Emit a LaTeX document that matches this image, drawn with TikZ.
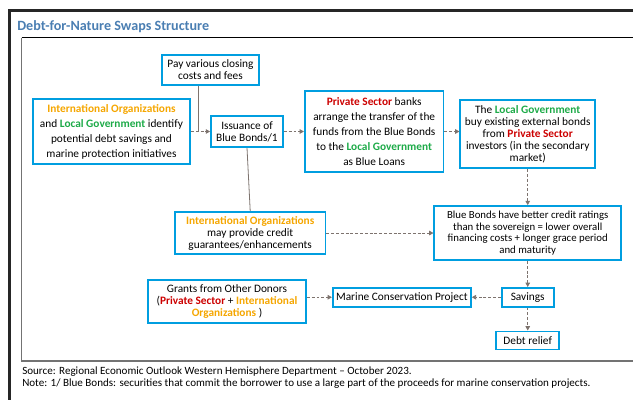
\documentclass[tikz,border=0pt]{standalone}
\usepackage{fontspec}
\setmainfont{Carlito}
\usepackage{tikz}
\usetikzlibrary{arrows.meta, positioning}
\usepackage{xcolor}
\definecolor{BoxBlue}{RGB}{0,158,224}
\definecolor{TitleBlue}{RGB}{74,126,178}
\definecolor{OrgOrange}{RGB}{245,166,0}
\definecolor{GovGreen}{RGB}{29,170,72}
\definecolor{PrivRed}{RGB}{204,0,0}
\definecolor{LinkGray}{RGB}{125,115,110}
\definecolor{FrameGray}{RGB}{115,115,115}
\newcommand{\orgtext}[1]{\textcolor{OrgOrange}{\textbf{#1}}}
\newcommand{\govtext}[1]{\textcolor{GovGreen}{\textbf{#1}}}
\newcommand{\privtext}[1]{\textcolor{PrivRed}{\textbf{#1}}}
\tikzset{%
  flow_block/.style={%
    rectangle,%
    draw=BoxBlue,%
    line width=1.4pt,%
    inner sep=1pt,%
    font={\fontsize{8.5}{9}\selectfont},%
    align=center%
  },
  loose_block/.style={%
    flow_block,%
    font={\fontsize{8.5}{11.25}\selectfont},%
  },
  tight_block/.style={%
    flow_block,%
    font={\fontsize{8.1}{8.6}\selectfont},%
  },
  flow_path/.style={%
    color=LinkGray,%
    line width=0.6pt,%
  },
  flow_dashed/.style={%
    flow_path,%
    dash pattern=on 2.2pt off 1.4pt,%
  },
  title_text/.style={%
    color=TitleBlue,%
    font={\fontsize{10.6}{12}\selectfont\bfseries},%
    inner sep=0pt,%
  },
  note_text/.style={%
    font={\fontsize{8.3}{9}\selectfont},%
    inner sep=0pt,%
    align=left,%
  },
  arrow/.style={-{Triangle[length=3.2pt, width=3.4pt]}},
}
\begin{document}
\begin{tikzpicture}[x=0.75pt, y=0.75pt]

    \useasboundingbox (0,0) rectangle (633,-400);

    % frame
    \draw [line width=1.6pt, color=black!85] (9.5,-400) -- (9.5,-10.5) -- (633,-10.5);
    \draw [line width=1.1pt, color=black] (21.5,-37.5) -- (633,-37.5);
    \draw [line width=1pt, color=FrameGray] (21.5,-37.5) -- (21.5,-361) -- (633,-361);

    \node [title_text, anchor=base west] (Title) at (17,-30)
      {Debt-for-Nature Swaps Structure};

    \node [flow_block, minimum width=54pt, minimum height=23pt] (Issuance) at (247,-131.5)
      {Issuance of\\Blue Bonds/1};
    \node [flow_block, minimum width=73pt, minimum height=22.5pt] (PayBox) at (210.5,-70)
      {Pay various closing\\costs and fees};
    \node [loose_block, minimum width=118pt, minimum height=49pt, left = 19 of Issuance] (IdentifyBox)
      {\orgtext{International Organizations}\\and \govtext{Local Government} identify\\potential debt savings and\\marine protection initiatives};
    \node [loose_block, minimum width=104pt, minimum height=61pt, right = 20 of Issuance] (BanksBox)
      {\privtext{Private Sector} banks\\arrange the transfer of the\\funds from the Blue Bonds\\to the \govtext{Local Government}\\as Blue Loans};
    \node [flow_block, minimum width=101pt, minimum height=51pt, right = 15 of BanksBox, yshift=-2] (BuyBox)
      {The \govtext{Local Government}\\buy existing external bonds\\from \privtext{Private Sector}\\investors (in the secondary\\market)};
    \node [tight_block, minimum width=140pt, minimum height=40.5pt, below = 36 of BuyBox] (RatingsBox)
      {Blue Bonds have better credit ratings\\than the sovereign = lower overall\\financing costs + longer grace period\\and maturity};
    \node [flow_block, minimum width=113pt, minimum height=32pt, left = 107 of RatingsBox] (GuaranteeBox)
      {\orgtext{International Organizations}\\may provide credit\\guarantees/enhancements};
    \node [flow_block, minimum width=39pt, minimum height=14pt, below = 26 of RatingsBox] (SavingsBox)
      {Savings};
    \node [flow_block, minimum width=103.5pt, minimum height=14pt, left = 29 of SavingsBox] (MarineBox)
      {Marine Conservation Project};
    \node [flow_block, minimum width=118.5pt, minimum height=32pt, left = 25 of MarineBox, yshift=-3] (GrantsBox)
      {Grants from Other Donors\\(\privtext{Private Sector} + \orgtext{International}\\\orgtext{Organizations} )};
    \node [flow_block, minimum width=47pt, minimum height=13.5pt, below = 23 of SavingsBox] (ReliefBox)
      {Debt relief};

    \coordinate [right = 7 of IdentifyBox.east] (PayDrop);

    \draw [flow_path]
      (PayBox.south -| PayDrop)
      --
      (PayDrop);
    \draw [arrow, flow_dashed]
      (IdentifyBox.east)
      --
      (Issuance.west);
    \draw [flow_path]
      (Issuance.south)
      --
      (GuaranteeBox.north);
    \draw [arrow, flow_dashed]
      (Issuance.east)
      --
      (BanksBox.west);
    \draw [arrow, flow_dashed]
      (BanksBox.east)
      --
      (BanksBox.east -| BuyBox.west);
    \draw [arrow, flow_dashed]
      (BuyBox.south)
      --
      (RatingsBox.north);
    \draw [arrow, flow_dashed]
      (GuaranteeBox.east)
      --
      (RatingsBox.west);
    \draw [arrow, flow_dashed]
      (RatingsBox.south)
      --
      (SavingsBox.north);
    \draw [arrow, flow_dashed]
      (SavingsBox.west)
      --
      (MarineBox.east);
    \draw [arrow, flow_dashed]
      (MarineBox.west -| GrantsBox.east)
      --
      (MarineBox.west);
    \draw [arrow, flow_dashed]
      (SavingsBox.south)
      --
      (ReliefBox.north);

    \node [note_text, anchor=base west] (Source) at (22,-374)
      {Source: Regional Economic Outlook Western Hemisphere Department -- October 2023.};
    \node [note_text, below = 12 of Source.base west, anchor=base west] (Note)
      {Note: 1/ Blue Bonds: securities that commit the borrower to use a large part of the proceeds for marine conservation projects.};
  \end{tikzpicture}
\end{document}
